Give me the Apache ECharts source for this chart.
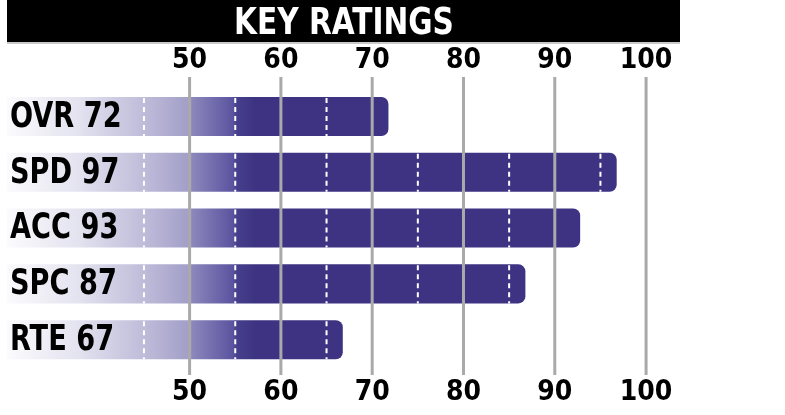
<!DOCTYPE html>
<html>
<head>
<meta charset="utf-8">
<script src="https://cdn.jsdelivr.net/npm/echarts@6/dist/echarts.min.js"></script>
<style>
  html, body { margin: 0; padding: 0; background: #fff; }
  #chart { width: 785px; height: 415px; }
</style>
</head>
<body>
<div id="chart"></div>
<script>
// ratings data
const categories = ["OVR", "SPD", "ACC", "SPC", "RTE"];
const ratings = [72, 97, 93, 87, 67];
const gridValues = [50, 60, 70, 80, 90, 100];
const dashValues = [45, 55, 65, 75, 85, 95];
const barStart = 30;
const xMin = 30;
const xMax = 104;
const yMin = -0.708;
const yMax = 4.633;

const purple = "#3d3382";
const labelFont = '"DejaVu Sans Condensed", sans-serif';

let chart = echarts.init(document.getElementById("chart"));

function axisOpt(position, margin) {
  return {
    type: "value",
    position: position,
    min: xMin,
    max: xMax,
    interval: 10,
    axisLine: { show: false },
    axisTick: { show: false },
    splitLine: { show: false },
    axisLabel: {
      margin: margin,
      showMinLabel: false,
      showMaxLabel: false,
      fontSize: 28,
      fontWeight: "bold",
      fontFamily: labelFont,
      color: "#000",
      formatter: (v) => (v >= 50 && v <= 100 ? String(v) : ""),
    },
  };
}

function renderBar(params, api) {
  let idx = api.value(1);
  let val = api.value(0);
  let p0 = api.coord([barStart, idx]);
  let p1 = api.coord([val, idx]);
  let h = api.size([0, 0.7])[1];
  let y = p0[1] - h / 2;
  let gx1 = api.coord([57.2, idx])[0];
  let children = [
    {
      type: "rect",
      shape: { x: p0[0], y: y, width: p1[0] - p0[0] - 2, height: h, r: [0, 7, 7, 0] },
      style: {
        fill: new echarts.graphic.LinearGradient(p0[0], 0, gx1, 0, [
          { offset: 0, color: "#fbfbfd" },
          { offset: 0.29, color: "#e3e2ef" },
          { offset: 0.556, color: "#bebbd9" },
          { offset: 0.73, color: "#a29fc8" },
          { offset: 0.746, color: "#8c87bb" },
          { offset: 0.91, color: "#5a54a0" },
          { offset: 0.927, color: "#463f8b" },
          { offset: 1, color: purple },
        ], true),
      },
    },
  ];
  dashValues
    .filter((d) => d < val)
    .forEach((d) => {
      let x = api.coord([d, idx])[0];
      children.push({
        type: "line",
        shape: { x1: x, y1: y + 1, x2: x, y2: y + h },
        style: { stroke: "#fff", lineWidth: 2, lineDash: [5, 4] },
      });
    });
  children.push({
    type: "text",
    x: p0[0] + 3,
    y: p0[1] + 1,
    scaleX: 0.84,
    style: {
      text: categories[idx] + " " + val,
      font: "bold 36px " + labelFont,
      fill: "#000",
      align: "left",
      verticalAlign: "middle",
    },
  });
  return { type: "group", children: children };
}

function renderGridLine(params, api) {
  let v = api.value(0);
  let top = api.coord([v, yMin]);
  let bottom = api.coord([v, yMax]);
  return {
    type: "line",
    shape: { x1: top[0], y1: top[1], x2: bottom[0], y2: bottom[1] },
    style: { stroke: "#a9a9ab", lineWidth: 3 },
  };
}

let option = {
  animation: false,
  backgroundColor: "#fff",
  graphic: [
    {
      type: "rect",
      left: 7,
      top: 0,
      shape: { width: 673, height: 42 },
      style: { fill: "#000" },
    },
    {
      type: "rect",
      left: 7,
      top: 42,
      shape: { width: 673, height: 2 },
      style: { fill: "#c9c9c9" },
    },
    {
      type: "text",
      x: 344,
      y: 24,
      scaleX: 0.89,
      style: {
        text: "KEY RATINGS",
        font: "bold 37px " + labelFont,
        fill: "#fff",
        align: "center",
        verticalAlign: "middle",
      },
    },
  ],
  grid: { left: 7, top: 77, width: 675.6, height: 298 },
  xAxis: [axisOpt("top", 2), axisOpt("bottom", 4)],
  yAxis: { type: "value", inverse: true, min: yMin, max: yMax, show: false },
  series: [
    {
      type: "custom",
      z: 2,
      clip: false,
      renderItem: renderBar,
      encode: { x: 0, y: 1 },
      data: ratings.map((v, i) => [v, i]),
    },
    {
      type: "custom",
      z: 3,
      clip: false,
      renderItem: renderGridLine,
      encode: { x: 0 },
      data: gridValues.map((v) => [v]),
    },
  ],
};

chart.setOption(option);
</script>
</body>
</html>
